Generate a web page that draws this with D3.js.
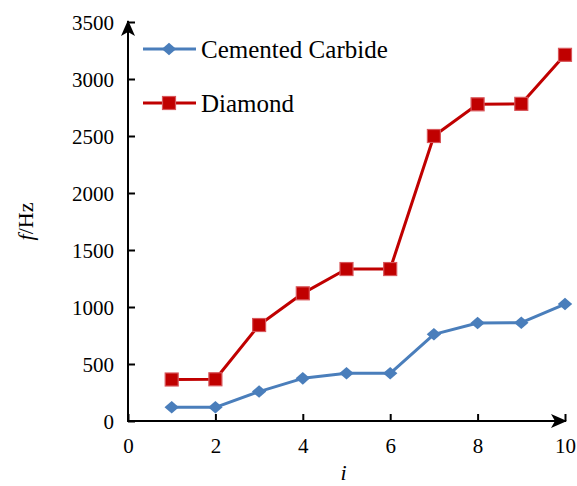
<!DOCTYPE html>
<html>
<head>
<meta charset="utf-8">
<script src="https://cdn.jsdelivr.net/npm/d3@7"></script>
<style>
  html, body { margin: 0; padding: 0; background: #fff; }
  svg { display: block; }
  svg text { font-family: "Liberation Serif", "Times New Roman", serif; }
</style>
</head>
<body>
<svg id="chart" width="577" height="486"></svg>
<script>
// Mode index i and natural frequency f (Hz) for each tool material
const modes = [1, 2, 3, 4, 5, 6, 7, 8, 9, 10];
const cementedCarbide = [120, 120, 258, 374, 418, 418, 760, 860, 862, 1026];
const diamond = [364, 366, 842, 1120, 1333, 1333, 2500, 2778, 2782, 3212];
const xTicks = [0, 2, 4, 6, 8, 10];
const yTicks = [0, 500, 1000, 1500, 2000, 2500, 3000, 3500];
const seriesNames = ["Cemented Carbide", "Diamond"];

const svg = d3.select("#chart");
const x = d3.scaleLinear().domain([0, 10]).range([128, 565]);
const y = d3.scaleLinear().domain([0, 3500]).range([421, 22]);

const blue = "#4a7ebb";
const red = "#c00000";

// Axes: ticks point inward
const xAxis = d3.axisBottom(x).tickValues(xTicks).tickSize(-7).tickPadding(14).tickFormat(d3.format("d"));
const yAxis = d3.axisLeft(y).tickValues(yTicks).tickSize(-7).tickPadding(14).tickFormat(d3.format("d"));

const gx = svg.append("g").attr("transform", `translate(0,${y(0)})`).call(xAxis);
const gy = svg.append("g").attr("transform", `translate(${x(0)},0)`).call(yAxis);
[gx, gy].forEach(g => {
  g.attr("font-family", null).attr("font-size", 21);
  g.select(".domain").remove();
  g.selectAll(".tick line").attr("stroke", "#000").attr("stroke-width", 2);
  g.selectAll(".tick text").attr("fill", "#000");
});
gx.selectAll(".tick text").attr("dy", "0.85em");
gy.selectAll(".tick text").attr("dy", "0.34em");

// Axis lines with arrowheads
svg.append("defs").append("marker")
  .attr("id", "arrow").attr("viewBox", "0 0 16 14")
  .attr("refX", 15).attr("refY", 7)
  .attr("markerWidth", 16).attr("markerHeight", 14)
  .attr("markerUnits", "userSpaceOnUse").attr("orient", "auto")
  .append("path").attr("d", "M0,0 L16,7 L0,14 L4,7 Z").attr("fill", "#000");

svg.append("line")
  .attr("x1", x(0)).attr("y1", y(0)).attr("x2", x(10) + 1).attr("y2", y(0))
  .attr("stroke", "#000").attr("stroke-width", 2).attr("marker-end", "url(#arrow)");
svg.append("line")
  .attr("x1", x(0)).attr("y1", y(0) + 1).attr("x2", x(0)).attr("y2", y(3500) - 1)
  .attr("stroke", "#000").attr("stroke-width", 2).attr("marker-end", "url(#arrow)");

// Axis titles
svg.append("text")
  .attr("x", x(5) - 3).attr("y", 480)
  .attr("text-anchor", "middle").attr("font-size", 22).attr("font-style", "italic")
  .text("i");
const yt = svg.append("text")
  .attr("transform", `translate(33,${y(1750)}) rotate(-90)`)
  .attr("text-anchor", "middle").attr("font-size", 22);
yt.append("tspan").attr("font-style", "italic").text("f");
yt.append("tspan").text("/Hz");

// Series
const line = d3.line().x((d, i) => x(modes[i])).y(d => y(d));
const diamondSym = d3.symbol().type(d3.symbolDiamond2).size(100);

function drawLine(values, color) {
  svg.append("path").datum(values)
    .attr("d", line).attr("fill", "none")
    .attr("stroke", color).attr("stroke-width", 3).attr("stroke-linejoin", "round");
}

drawLine(diamond, red);
svg.selectAll(".sq").data(diamond).enter().append("rect")
  .attr("x", (d, i) => x(modes[i]) - 6.5).attr("y", d => y(d) - 6.5)
  .attr("width", 13).attr("height", 13)
  .attr("fill", red).attr("stroke", "#d8565a").attr("stroke-width", 1.2);

drawLine(cementedCarbide, blue);
svg.selectAll(".dm").data(cementedCarbide).enter().append("path")
  .attr("transform", (d, i) => `translate(${x(modes[i])},${y(d)}) scale(1.15,1)`)
  .attr("d", diamondSym).attr("fill", blue);

// Legend
const legend = [
  { name: seriesNames[0], color: blue, ly: 49, shape: "diamond" },
  { name: seriesNames[1], color: red, ly: 103, shape: "square" }
];
legend.forEach(l => {
  svg.append("line").attr("x1", 143).attr("x2", 196).attr("y1", l.ly).attr("y2", l.ly)
    .attr("stroke", l.color).attr("stroke-width", 3);
  if (l.shape === "diamond") {
    svg.append("path").attr("transform", `translate(169,${l.ly}) scale(1.15,1)`)
      .attr("d", diamondSym).attr("fill", l.color);
  } else {
    svg.append("rect").attr("x", 162.5).attr("y", l.ly - 6.5).attr("width", 13).attr("height", 13)
      .attr("fill", l.color).attr("stroke", "#d8565a").attr("stroke-width", 1.2);
  }
  svg.append("text").attr("x", 201).attr("y", l.ly).attr("dy", "0.35em")
    .attr("font-size", 25).attr("fill", "#000").text(l.name);
});
</script>
</body>
</html>
